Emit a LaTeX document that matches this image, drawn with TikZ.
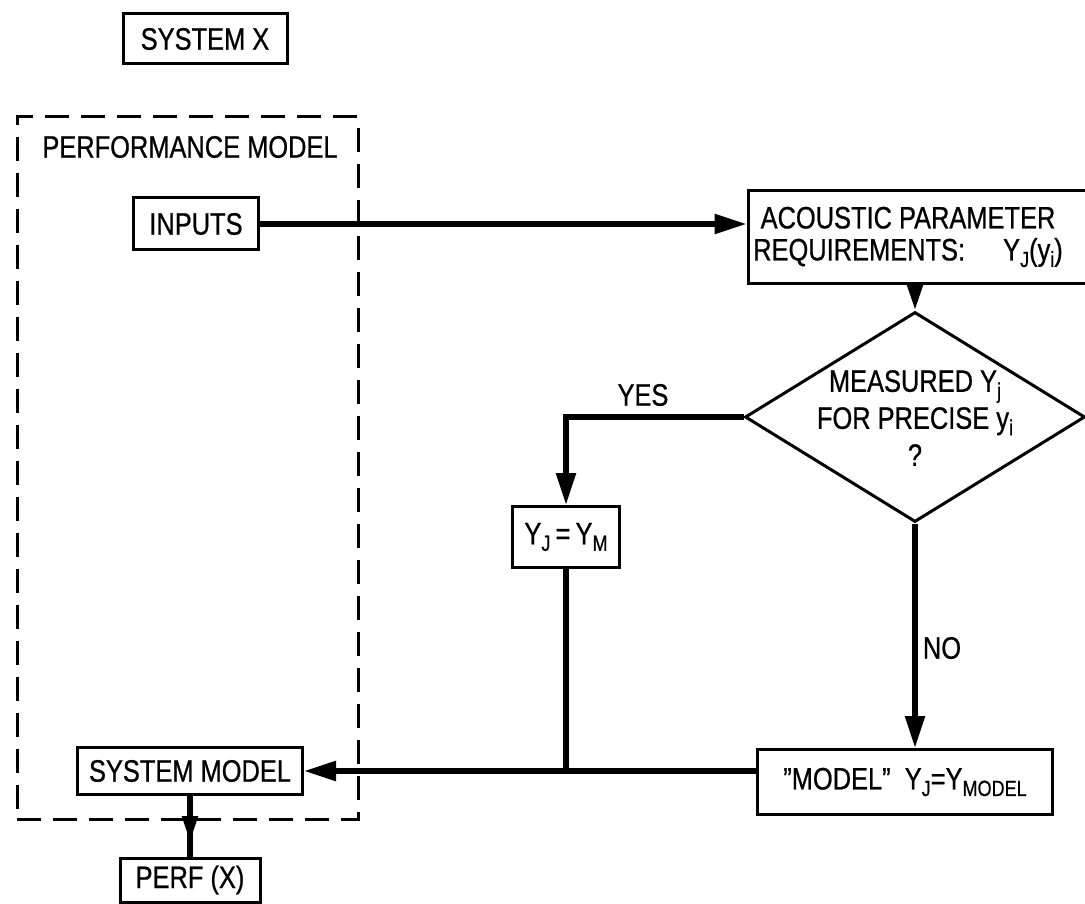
\documentclass[tikz,border=0pt]{standalone}
\usepackage{fontspec}
\setmainfont{Liberation Sans}[FakeStretch=0.82,FakeBold=0.7]
\usetikzlibrary{arrows.meta,shapes.geometric}
\newcommand\lsub[1]{\raisebox{-0.4ex}{\fontsize{22}{22}\selectfont #1}}
\begin{document}
\begin{tikzpicture}[x=1pt,y=-1pt,
  font=\fontsize{31}{35}\selectfont,
  box/.style={draw,line width=3pt,inner sep=0pt,align=center},
  conn/.style={line width=5.5pt},
  tip/.style={-{Triangle[length=32pt,width=19pt]}},
  smalltip/.style={-{Triangle[length=26pt,width=15pt]}},
  lbl/.style={inner sep=0pt}]
\useasboundingbox (0,0) rectangle (1085,904);
% boxes
\node[box,minimum width=164,minimum height=50] (sysx) at (205,39) {SYSTEM X};
\node[draw,line width=3pt,dash pattern=on 24pt off 12pt,minimum width=341,minimum height=702,inner sep=0pt] (pm) at (187.5,468) {};
\node[lbl] (pmlabel) at (190,147) {PERFORMANCE MODEL};
\node[box,minimum width=125,minimum height=52] (inputs) at (196,224) {INPUTS};
\node[box,minimum width=346,minimum height=93,font=\fontsize{31}{32}\selectfont] (acoustic) at (921,237)
  {ACOUSTIC PARAMETER\hspace*{26pt}\\REQUIREMENTS:\quad\ Y\lsub{J}(y\lsub{i})\hspace*{26pt}};
\node[draw,diamond,line width=3pt,minimum width=340,minimum height=210,inner sep=0pt] (dec) at (915,417) {};
\node[lbl,align=center,font=\fontsize{31}{37}\selectfont] (dectext) at (915,418) {MEASURED Y\lsub{j}\\FOR PRECISE y\lsub{i}\\?};
\node[box,minimum width=107,minimum height=61] (yjm) at (566,537) {Y\lsub{J}\,=\,Y\lsub{M}};
\node[box,minimum width=295,minimum height=65] (model) at (905,782) {\char34 MODEL\char34\ \ Y\lsub{J}=Y\lsub{MODEL}};
\node[box,minimum width=225,minimum height=47] (sm) at (190,771) {SYSTEM MODEL};
\node[box,minimum width=140,minimum height=44] (perf) at (190,880) {PERF (X)};
% labels
\node[lbl] (yes) at (643,395) {YES};
\node[lbl] (no) at (942,648) {NO};
% connectors
\draw[conn,tip] (inputs.east) -- (acoustic.west |- inputs.east);
\draw[conn,smalltip] (dec.north |- acoustic.south) -- (dec.north);
\draw[conn,tip] (dec.west) -| (yjm.north);
\draw[conn,tip] (dec.south) -- (dec.south |- model.north);
\draw[conn,tip] (model.west |- sm.east) -- (sm.east);
\draw[conn] (yjm.south) -- (yjm.south |- sm.east);
\coordinate (pa) at (0,842);
\draw[conn] (sm.south) -- (perf.north);
\draw[conn,smalltip] (sm.south) -- (sm.south |- pa);
\end{tikzpicture}
\end{document}
